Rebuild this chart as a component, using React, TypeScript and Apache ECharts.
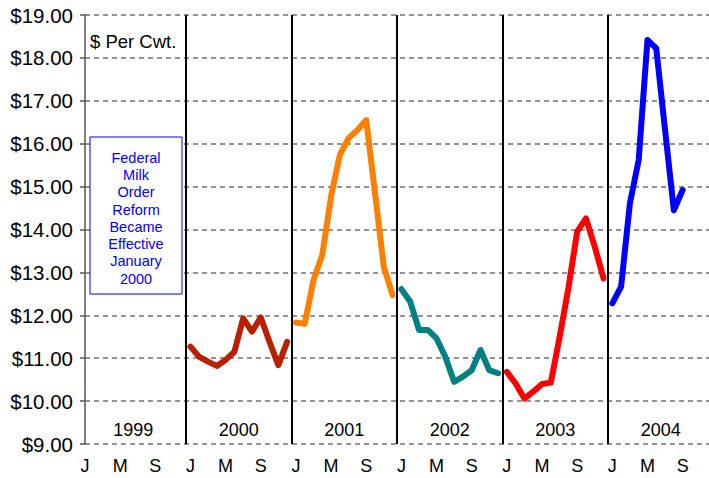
import React, { useEffect, useRef } from "react";
import * as echarts from "echarts";

// Month index 0 = Jan 1999
const yearNames = ["1999", "2000", "2001", "2002", "2003", "2004"];
const monthTickLabels = ["J", "M", "S"];
const yearBoundaries = [11.5, 23.5, 35.5, 47.5, 59.5];

const values2000 = [11.27, 11.03, 10.92, 10.82, 10.96, 11.15, 11.93, 11.62, 11.95, 11.38, 10.84, 11.38];
const values2001 = [11.83, 11.8, 12.82, 13.41, 14.77, 15.74, 16.13, 16.32, 16.55, 14.85, 13.13, 12.47];
const values2002 = [12.61, 12.32, 11.66, 11.66, 11.46, 11.03, 10.45, 10.57, 10.72, 11.19, 10.72, 10.65];
const values2003 = [10.68, 10.41, 10.06, 10.22, 10.4, 10.43, 11.49, 12.63, 13.95, 14.26, 13.6, 12.86];
const values2004 = [12.28, 12.67, 14.61, 15.62, 18.42, 18.22, 16.32, 14.45, 14.92];

const seriesDefs = [
  { year: 2000, values: values2000, color: "#B82000" },
  { year: 2001, values: values2001, color: "#FF8000" },
  { year: 2002, values: values2002, color: "#008080" },
  { year: 2003, values: values2003, color: "#FF0000" },
  { year: 2004, values: values2004, color: "#0000FF" },
];

const FONT = '"Liberation Sans", Arial, sans-serif';

export default function App() {
  const ref = useRef<HTMLDivElement>(null);
  useEffect(() => {
    if (!ref.current) return;
    const chart = echarts.init(ref.current, null, { renderer: "svg" });
    const lineSeries = seriesDefs.map((s) => ({
      type: "line",
      name: String(s.year),
      data: s.values.map((v, i) => [(s.year - 1999) * 12 + i, v]),
      symbol: "none",
      lineStyle: { color: s.color, width: 6, cap: "round", join: "round" },
      itemStyle: { color: s.color },
      z: 5,
      silent: true,
    }));
    const option = {
      animation: false,
      grid: { left: 85, right: 0, top: 15, bottom: 34, containLabel: false },
      xAxis: {
        type: "value",
        min: 0,
        max: 71,
        interval: 4,
        axisLine: { show: false },
        axisTick: { show: false },
        splitLine: { show: false },
        axisLabel: {
          showMaxLabel: false,
          fontSize: 18,
          fontFamily: FONT,
          color: "#000",
          margin: 13,
          formatter: (v: number) => (v % 4 === 0 ? monthTickLabels[(v / 4) % 3] : ""),
        },
      },
      yAxis: {
        type: "value",
        min: 9,
        max: 19,
        interval: 1,
        axisLine: { show: true, lineStyle: { color: "#555", width: 1.5 } },
        axisTick: { show: true, inside: false, length: 5, lineStyle: { color: "#555", width: 1.5 } },
        splitLine: { show: true, lineStyle: { type: [5, 4], color: "#707070", width: 1.5 } },
        axisLabel: {
          fontSize: 20.5,
          fontFamily: FONT,
          color: "#000",
          margin: 12,
          formatter: (v: number) => "$" + v.toFixed(2),
        },
      },
      series: [
        ...lineSeries,
        {
          type: "scatter",
          silent: true,
          symbolSize: 1,
          itemStyle: { color: "rgba(0,0,0,0)", opacity: 1 },
          data: yearNames.map((y, i) => ({ name: y, value: [5.5 + i * 12, 9.33] })),
          label: {
            show: true,
            position: "inside",
            formatter: "{b}",
            fontSize: 18,
            fontFamily: FONT,
            color: "#000",
            opacity: 1,
          },
          markLine: {
            silent: true,
            symbol: ["none", "none"],
            label: { show: false },
            lineStyle: { color: "#000", width: 2, type: "solid", opacity: 1 },
            data: yearBoundaries.map((x) => ({ xAxis: x })),
          },
          z: 4,
        },
      ],
      graphic: [
        {
          type: "text",
          x: 90,
          y: 41,
          z: 10,
          style: {
            text: "$ Per Cwt.",
            fill: "#000",
            font: `18.5px ${FONT}`,
            verticalAlign: "middle",
            align: "left",
          },
        },
        {
          type: "rect",
          z: 10,
          shape: { x: 90, y: 137, width: 92, height: 157 },
          style: { fill: "#fff", stroke: "#0000FF", lineWidth: 1 },
        },
        {
          type: "text",
          x: 136,
          y: 149,
          z: 11,
          style: {
            text: "Federal\nMilk\nOrder\nReform\nBecame\nEffective\nJanuary\n2000",
            fill: "#0000FF",
            font: `14.5px ${FONT}`,
            align: "center",
            verticalAlign: "top",
            lineHeight: 17.3,
          },
        },
      ],
    };
    chart.setOption(option as any);
    return () => chart.dispose();
  }, []);
  return (
    <div
      ref={ref}
      style={{ position: "absolute", left: 0, top: 0, width: 709, height: 478, background: "#fff" }}
    />
  );
}
